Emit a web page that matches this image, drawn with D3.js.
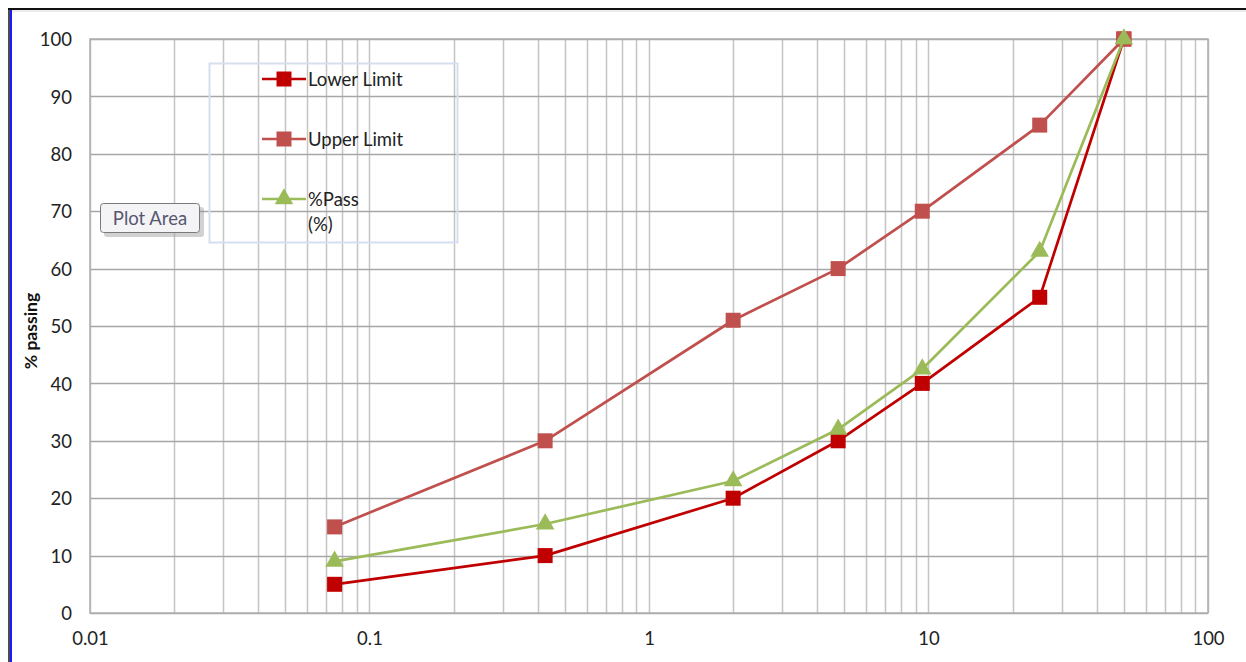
<!DOCTYPE html>
<html>
<head>
<meta charset="utf-8">
<script src="https://cdn.jsdelivr.net/npm/d3@7"></script>
<style>
  html, body { margin: 0; padding: 0; background: #ffffff; }
  svg { display: block; }
  text { font-family: Lato, "Open Sans", sans-serif; }
</style>
</head>
<body>
<svg id="chart" width="1246" height="662"></svg>
<script>
// Sieve sizes (mm) and grading envelopes
const sieveSizes = [0.075, 0.425, 2, 4.75, 9.5, 25, 50];
const lowerLimit = [5, 10, 20, 30, 40, 55, 100];
const upperLimit = [15, 30, 51, 60, 70, 85, 100];
const passPct    = [9, 15.5, 23, 32, 42.5, 63, 100];

const seriesNames  = ["Lower Limit", "Upper Limit", "%Pass"];
const seriesColors = ["#c00000", "#c0504d", "#9bbb59"];
const seriesMarkers = ["square", "square", "triangle"];

const xTickValues = [0.01, 0.1, 1, 10, 100];
const xTickLabels = ["0.01", "0.1", "1", "10", "100"];
const yTickValues = [0, 10, 20, 30, 40, 50, 60, 70, 80, 90, 100];
const yTitle = "% passing";

const svg = d3.select("#chart");
const W = 1246, H = 662;
const plot = { left: 90, top: 39, right: 1208, bottom: 613 };

const x = d3.scaleLog().domain([0.01, 100]).range([plot.left, plot.right]);
const y = d3.scaleLinear().domain([0, 100]).range([plot.bottom, plot.top]);

// window frame
svg.append("rect").attr("x", 0).attr("y", 0).attr("width", W).attr("height", H).attr("fill", "#ffffff");
svg.append("line").attr("x1", 8).attr("x2", W).attr("y1", 9).attr("y2", 9)
  .attr("stroke", "#111").attr("stroke-width", 2);
svg.append("line").attr("x1", 9).attr("x2", 9).attr("y1", 8).attr("y2", H)
  .attr("stroke", "#111").attr("stroke-width", 1.5);
svg.append("line").attr("x1", 11).attr("x2", 11).attr("y1", 10).attr("y2", H)
  .attr("stroke", "#1a1aff").attr("stroke-width", 2);
svg.append("line").attr("x1", 12).attr("x2", W).attr("y1", 11).attr("y2", 11)
  .attr("stroke", "#d8d8d8").attr("stroke-width", 1);

// minor + major vertical gridlines on the log axis
const minorTicks = [];
for (let e = -2; e < 2; e++) {
  for (let m = 1; m <= 9; m++) minorTicks.push(m * Math.pow(10, e));
}
minorTicks.push(100);

const grid = svg.append("g");
grid.selectAll("line.v").data(minorTicks).join("line")
  .attr("class", "v")
  .attr("x1", d => Math.round(x(d)) + 0.5).attr("x2", d => Math.round(x(d)) + 0.5)
  .attr("y1", plot.top).attr("y2", plot.bottom)
  .attr("stroke", "#c4c4c4").attr("stroke-width", 1.5);

grid.selectAll("line.h").data(yTickValues).join("line")
  .attr("class", "h")
  .attr("x1", plot.left).attr("x2", plot.right)
  .attr("y1", d => Math.round(y(d)) + 0.5).attr("y2", d => Math.round(y(d)) + 0.5)
  .attr("stroke", "#a6a6a6").attr("stroke-width", 1.5);

svg.append("rect")
  .attr("x", plot.left).attr("y", plot.top)
  .attr("width", plot.right - plot.left).attr("height", plot.bottom - plot.top)
  .attr("fill", "none").attr("stroke", "#b0b0b0").attr("stroke-width", 1.5);

// axes (labels only; lines come from the grid)
const yAxis = d3.axisLeft(y).tickValues(yTickValues).tickSize(0).tickPadding(18);
const gy = svg.append("g").attr("transform", `translate(${plot.left},0)`).call(yAxis);
gy.select(".domain").remove();
gy.selectAll("text").attr("font-size", 18.5).attr("fill", "#222").attr("dy", "0.36em")
  .attr("font-family", "Lato, sans-serif");

const xAxis = d3.axisBottom(x).tickValues(xTickValues)
  .tickFormat((d, i) => xTickLabels[i]).tickSize(0).tickPadding(19);
const gx = svg.append("g").attr("transform", `translate(0,${plot.bottom})`).call(xAxis);
gx.select(".domain").remove();
gx.selectAll("text").attr("font-size", 18.5).attr("fill", "#222")
  .attr("font-family", "Lato, sans-serif");

svg.append("text")
  .attr("transform", `translate(37,${(plot.top + plot.bottom) / 2 + 5}) rotate(-90)`)
  .attr("text-anchor", "middle")
  .attr("font-size", 17.5).attr("font-weight", "bold").attr("fill", "#111")
  .text(yTitle);

// series
const seriesValues = [lowerLimit, upperLimit, passPct];
const line = d3.line().x(d => x(d[0])).y(d => y(d[1]));
const sq = d3.symbol().type(d3.symbolSquare).size(15 * 15);
const tri = d3.symbol().type(d3.symbolTriangle).size(150);

function drawMarker(g, kind, color, cx, cy) {
  g.append("path")
    .attr("d", kind === "square" ? sq() : tri())
    .attr("transform", `translate(${cx},${cy})`)
    .attr("fill", color);
}

seriesValues.forEach((vals, si) => {
  const pts = sieveSizes.map((s, i) => [s, vals[i]]);
  const g = svg.append("g");
  g.append("path").attr("d", line(pts))
    .attr("fill", "none").attr("stroke", seriesColors[si])
    .attr("stroke-width", 2.7).attr("stroke-linejoin", "round");
  pts.forEach(p => drawMarker(g, seriesMarkers[si], seriesColors[si], x(p[0]), y(p[1])));
});

// legend
const lg = svg.append("g");
lg.append("rect").attr("x", 209.5).attr("y", 63.5).attr("width", 248).attr("height", 179)
  .attr("fill", "none").attr("stroke", "#d6dff0").attr("stroke-width", 2);
const legendRows = [79, 139, 199];
seriesNames.forEach((name, i) => {
  const ly = legendRows[i];
  lg.append("line").attr("x1", 262).attr("x2", 306).attr("y1", ly).attr("y2", ly)
    .attr("stroke", seriesColors[i]).attr("stroke-width", 2.7);
  drawMarker(lg, seriesMarkers[i], seriesColors[i], 284, ly);
  const t = lg.append("text").attr("x", 308).attr("y", ly + 7)
    .attr("font-size", 18.5).attr("fill", "#222");
  if (name === "%Pass") {
    t.text("%Pass");
    lg.append("text").attr("x", 308).attr("y", ly + 32)
      .attr("font-size", 18.5).attr("fill", "#222").text("(%)");
  } else {
    t.text(name);
  }
});

// "Plot Area" hover tag
const tip = svg.append("g");
tip.append("rect").attr("x", 104).attr("y", 207).attr("width", 100).attr("height", 30)
  .attr("rx", 3).attr("fill", "#9a9a9a").attr("opacity", 0.45);
tip.append("rect").attr("x", 100.5).attr("y", 203.5).attr("width", 99).attr("height", 29)
  .attr("rx", 3).attr("fill", "#f4f4f6").attr("stroke", "#7a7a7a").attr("stroke-width", 1);
tip.append("text").attr("x", 150).attr("y", 225).attr("text-anchor", "middle")
  .attr("font-size", 18.5).attr("fill", "#575770").text("Plot Area");
</script>
</body>
</html>
